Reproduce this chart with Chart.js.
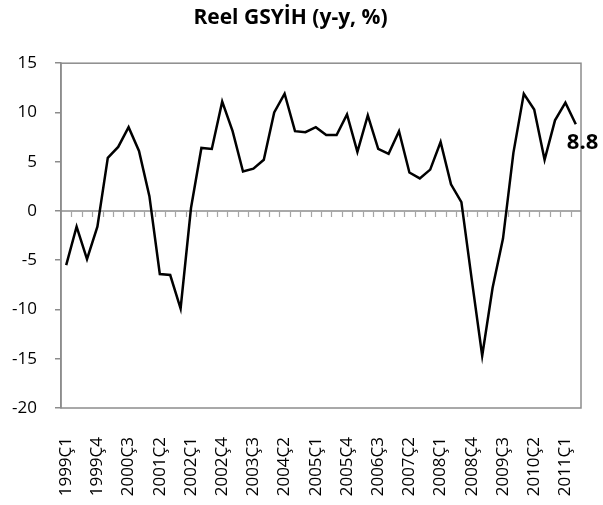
<!DOCTYPE html>
<html>
<head>
<meta charset="utf-8">
<script src="https://cdn.jsdelivr.net/npm/chart.js@4"></script>
<style>
  html, body { margin: 0; padding: 0; background: #fff; }
  canvas { display: block; }
</style>
</head>
<body>
<canvas id="gdpChart" width="603" height="505"></canvas>
<script>
// Çeyrekler (1999Ç1 - 2011Ç2)
const quarters = [
    '1999Ç1', '1999Ç2', '1999Ç3', '1999Ç4',
    '2000Ç1', '2000Ç2', '2000Ç3', '2000Ç4',
    '2001Ç1', '2001Ç2', '2001Ç3', '2001Ç4',
    '2002Ç1', '2002Ç2', '2002Ç3', '2002Ç4',
    '2003Ç1', '2003Ç2', '2003Ç3', '2003Ç4',
    '2004Ç1', '2004Ç2', '2004Ç3', '2004Ç4',
    '2005Ç1', '2005Ç2', '2005Ç3', '2005Ç4',
    '2006Ç1', '2006Ç2', '2006Ç3', '2006Ç4',
    '2007Ç1', '2007Ç2', '2007Ç3', '2007Ç4',
    '2008Ç1', '2008Ç2', '2008Ç3', '2008Ç4',
    '2009Ç1', '2009Ç2', '2009Ç3', '2009Ç4',
    '2010Ç1', '2010Ç2', '2010Ç3', '2010Ç4',
    '2011Ç1', '2011Ç2'
];

// Reel GSYİH büyümesi (y-y, %)
const growth = [
    -5.5, -1.6, -4.9, -1.6,
    5.4, 6.5, 8.5, 6.1,
    1.5, -6.4, -6.5, -9.9,
    0.3, 6.4, 6.3, 11.1,
    8.1, 4.0, 4.3, 5.2,
    10.0, 11.9, 8.1, 8.0,
    8.5, 7.7, 7.7, 9.8,
    6.0, 9.7, 6.3, 5.8,
    8.1, 3.9, 3.3, 4.2,
    7.0, 2.7, 0.9, -7.0,
    -14.7, -7.8, -2.8, 5.9,
    11.9, 10.3, 5.2, 9.2,
    11.0, 8.8
];

const yTicks = [-20, -15, -10, -5, 0, 5, 10, 15];
const labelEvery = 3;

const AXIS_GRAY = '#8c8c8c';
const FONT = "'Open Sans', 'Liberation Sans', sans-serif";

// Çerçeve, sıfır çizgisi ve çentikler
const framePlugin = {
    id: 'frame',
    beforeDatasetsDraw(chart) {
        const { ctx, chartArea: a, scales: { x, y } } = chart;
        ctx.save();
        ctx.strokeStyle = AXIS_GRAY;
        ctx.lineWidth = 1.5;
        ctx.strokeRect(a.left, a.top, a.right - a.left, a.bottom - a.top);
        const y0 = y.getPixelForValue(0);
        ctx.beginPath();
        ctx.moveTo(a.left, y0);
        ctx.lineTo(a.right, y0);
        ctx.stroke();
        ctx.lineWidth = 1.2;
        ctx.strokeStyle = '#a6a6a6';
        ctx.beginPath();
        for (let i = 1; i < quarters.length; i++) {
            const px = Math.round((x.getPixelForValue(i - 1) + x.getPixelForValue(i)) / 2) + 0.5;
            ctx.moveTo(px, y0);
            ctx.lineTo(px, y0 + 6);
        }
        ctx.stroke();
        ctx.restore();
    },
    afterDatasetsDraw(chart) {
        const { ctx } = chart;
        const meta = chart.getDatasetMeta(0);
        const last = meta.data[meta.data.length - 1];
        ctx.save();
        ctx.fillStyle = '#000';
        ctx.font = "bold 22px " + FONT;
        ctx.textAlign = 'left';
        ctx.textBaseline = 'middle';
        ctx.fillText(growth[growth.length - 1].toFixed(1), last.x - 9, last.y + 18);
        ctx.restore();
    }
};

new Chart(document.getElementById('gdpChart'), {
    type: 'line',
    data: {
        labels: quarters,
        datasets: [{
            data: growth,
            borderColor: '#000',
            borderWidth: 2.5,
            pointRadius: 0,
            tension: 0,
            fill: false
        }]
    },
    options: {
        responsive: false,
        animation: false,
        layout: { padding: { left: 0, right: 22, top: 0, bottom: 0 } },
        plugins: {
            legend: { display: false },
            tooltip: { enabled: false },
            title: {
                display: true,
                text: 'Reel GSYİH (y-y, %)',
                color: '#000',
                font: { family: FONT, size: 21, weight: 'bold' },
                padding: { top: 5, bottom: 33 }
            }
        },
        scales: {
            x: {
                offset: true,
                grid: { display: false },
                border: { display: false },
                afterFit: function(scale) {
                    scale.height = 97;
                    scale.paddingLeft = 0;
                    scale.paddingRight = 0;
                },
                ticks: {
                    autoSkip: false,
                    minRotation: 90,
                    maxRotation: 90,
                    color: '#000',
                    padding: 21,
                    font: { family: FONT, size: 17 },
                    callback: function(value, index) {
                        return index % labelEvery === 0 ? quarters[index] : '';
                    }
                }
            },
            y: {
                min: -20,
                max: 15,
                afterBuildTicks: function(scale) {
                    scale.ticks = yTicks.map(v => ({ value: v }));
                },
                afterFit: function(scale) { scale.width = 61; },
                grid: {
                    drawOnChartArea: false,
                    drawTicks: true,
                    tickLength: 6,
                    color: AXIS_GRAY,
                    lineWidth: 1.5
                },
                border: { display: true, color: AXIS_GRAY, width: 1.5 },
                ticks: {
                    color: '#000',
                    padding: 18,
                    font: { family: FONT, size: 17 }
                }
            }
        }
    },
    plugins: [framePlugin]
});
</script>
</body>
</html>
